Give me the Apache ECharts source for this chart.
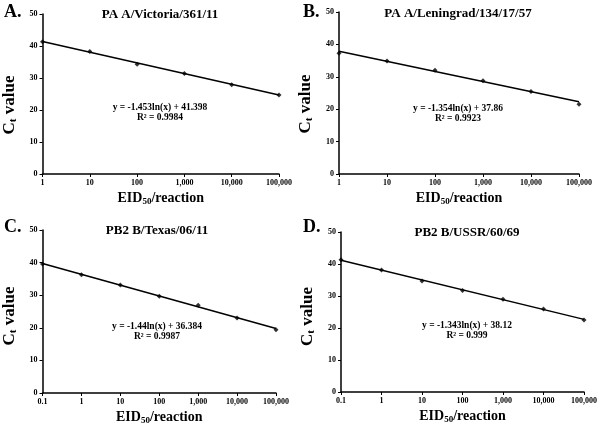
<!DOCTYPE html>
<html>
<head>
<meta charset="utf-8">
<script src="https://cdn.jsdelivr.net/npm/echarts@6/dist/echarts.min.js"></script>
<style>html,body{margin:0;padding:0;background:#fff}#c{width:600px;height:426px}</style>
</head>
<body>
<div id="c"></div>
<script>
// ---- data ----
const panelLabels = ['A.', 'B.', 'C.', 'D.'];
const panelTitles = ['PA A/Victoria/361/11', 'PA A/Leningrad/134/17/57', 'PB2 B/Texas/06/11', 'PB2 B/USSR/60/69'];
const equations = ['y = -1.453ln(x) + 41.398', 'y = -1.354ln(x) + 37.86', 'y = -1.44ln(x) + 36.384', 'y = -1.343ln(x) + 38.12'];
const rSquared = ['R² = 0.9984', 'R² = 0.9923', 'R² = 0.9987', 'R² = 0.999'];

const xA = [1, 10, 100, 1000, 10000, 100000];
const yA = [41.3, 38.3, 34.3, 31.4, 27.9, 24.7];
const xB = [1, 10, 100, 1000, 10000, 100000];
const yB = [37.3, 34.9, 32.0, 28.8, 25.5, 21.5];
const xC = [0.1, 1, 10, 100, 1000, 10000, 100000];
const yC = [39.6, 36.3, 33.1, 29.7, 26.9, 23.0, 19.4];
const xD = [0.1, 1, 10, 100, 1000, 10000, 100000];
const yD = [41.3, 38.1, 34.7, 31.7, 29.0, 25.9, 22.5];

// trend line end points
const trendXA = [1, 100000];   const trendYA = [41.4, 24.7];
const trendXB = [1, 100000];   const trendYB = [37.9, 22.3];
const trendXC = [0.1, 100000]; const trendYC = [39.7, 19.8];
const trendXD = [0.1, 100000]; const trendYD = [41.2, 22.7];

const xMins = [1, 1, 0.1, 0.1];
const xMax = 100000;
const yTicks = [0, 10, 20, 30, 40, 50];

// ---- layout ----
const grids = [
  {left: 42, top: 14, width: 237, height: 160},
  {left: 339, top: 12, width: 240, height: 162},
  {left: 42, top: 230, width: 234, height: 163},
  {left: 341, top: 232, width: 243, height: 160}
];
const titlePos = [[160, 15], [458, 14], [157, 231], [467, 233]];
const labelPos = [[4, 3], [303, 3], [4, 218], [303, 218]];
const eqPos = [[160, 108], [458, 109], [157, 327], [467, 326]];
const yNameShift = [22, 22, 9, 9];

const FONT = '"Liberation Serif", "Times New Roman", serif';
const pairs = (xs, ys) => xs.map((x, i) => [x, ys[i]]);
const pts = [pairs(xA, yA), pairs(xB, yB), pairs(xC, yC), pairs(xD, yD)];
const trends = [pairs(trendXA, trendYA), pairs(trendXB, trendYB), pairs(trendXC, trendYC), pairs(trendXD, trendYD)];

function fmtX(v) {
  if (v < 1) return String(Math.round(v * 10) / 10);
  return Math.round(v).toLocaleString('en-US');
}

const xAxis = [], yAxis = [], series = [], graphic = [];
for (let i = 0; i < 4; i++) {
  xAxis.push({
    gridIndex: i, type: 'log', logBase: 10, min: xMins[i], max: xMax,
    name: '{b|EID}{s|50}{b|/reaction}', nameLocation: 'middle', nameGap: 16,
    nameTextStyle: {
      fontFamily: FONT, fontWeight: 'bold', color: '#000',
      rich: {
        b: {fontFamily: FONT, fontWeight: 'bold', fontSize: 14, color: '#000', verticalAlign: 'middle', lineHeight: 16},
        s: {fontFamily: FONT, fontWeight: 'bold', fontSize: 9, color: '#000', verticalAlign: 'bottom', lineHeight: 5}
      }
    },
    axisLine: {lineStyle: {color: '#000', width: 1.5}},
    axisTick: {show: true, length: 3, lineStyle: {color: '#000'}},
    minorTick: {show: false},
    splitLine: {show: false},
    axisLabel: {formatter: fmtX, fontFamily: FONT, fontWeight: 'bold', fontSize: 8, color: '#000', margin: 5, showMinLabel: true, showMaxLabel: true}
  });
  yAxis.push({
    gridIndex: i, type: 'value', min: yTicks[0], max: yTicks[yTicks.length - 1], interval: 10,
    name: '{b|C}{s|t}{b| value}', nameLocation: 'middle', nameGap: 24, nameRotate: 90,
    nameTextStyle: {
      fontFamily: FONT, fontWeight: 'bold', color: '#000',
      padding: [0, yNameShift[i], 0, 0],
      rich: {
        b: {fontFamily: FONT, fontWeight: 'bold', fontSize: 17, color: '#000', verticalAlign: 'middle', lineHeight: 18},
        s: {fontFamily: FONT, fontWeight: 'bold', fontSize: 11, color: '#000', verticalAlign: 'bottom', lineHeight: 6}
      }
    },
    axisLine: {show: true, lineStyle: {color: '#000', width: 1.5}},
    axisTick: {show: true, length: 3, lineStyle: {color: '#000'}},
    splitLine: {show: false},
    axisLabel: {fontFamily: FONT, fontWeight: 'bold', fontSize: 8, color: '#000', margin: 5}
  });
  series.push({
    type: 'line', xAxisIndex: i, yAxisIndex: i, data: trends[i],
    showSymbol: false, symbol: 'none', lineStyle: {color: '#000', width: 1.5}, silent: true, z: 2
  });
  series.push({
    type: 'scatter', xAxisIndex: i, yAxisIndex: i, data: pts[i],
    symbol: 'diamond', symbolSize: 5, itemStyle: {color: '#000'}, z: 3
  });
  graphic.push({
    type: 'text', left: labelPos[i][0], top: labelPos[i][1],
    style: {text: panelLabels[i], font: 'bold 18px ' + FONT, fill: '#000'}
  });
  graphic.push({
    type: 'text', x: titlePos[i][0], y: titlePos[i][1],
    style: {text: panelTitles[i], font: 'bold 13px ' + FONT, fill: '#000', align: 'center', verticalAlign: 'middle'}
  });
  graphic.push({
    type: 'text', x: eqPos[i][0], y: eqPos[i][1],
    style: {text: equations[i], font: 'bold 9.5px ' + FONT, fill: '#000', align: 'center', verticalAlign: 'middle'}
  });
  graphic.push({
    type: 'text', x: eqPos[i][0], y: eqPos[i][1] + 10,
    style: {text: rSquared[i], font: 'bold 9.5px ' + FONT, fill: '#000', align: 'center', verticalAlign: 'middle'}
  });
}

const chart = echarts.init(document.getElementById('c'), null, {renderer: 'canvas'});
chart.setOption({
  animation: false,
  backgroundColor: '#fff',
  grid: grids,
  xAxis: xAxis,
  yAxis: yAxis,
  series: series,
  graphic: graphic
});
</script>
</body>
</html>
